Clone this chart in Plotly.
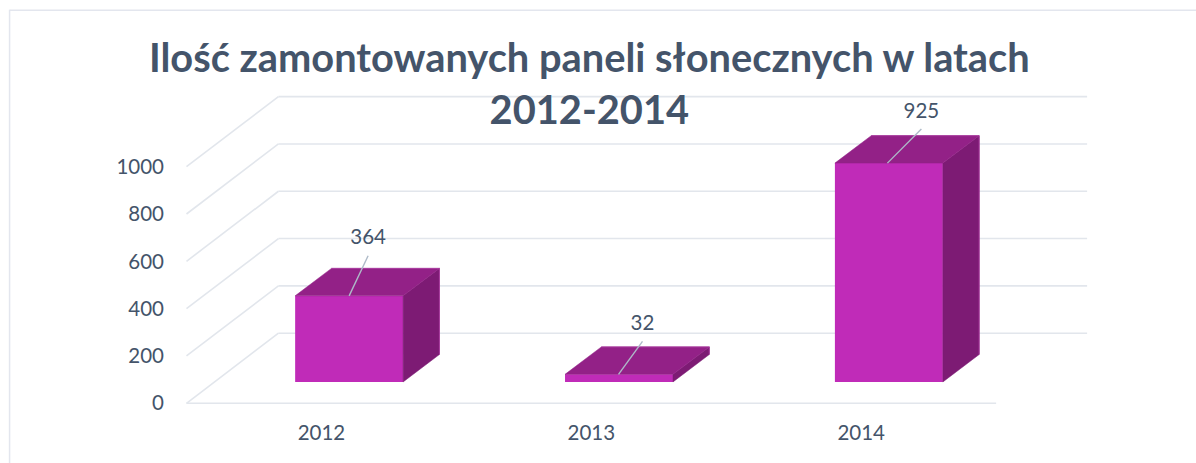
import plotly.graph_objects as go

# ---- data ----
YEARS = ["2012", "2013", "2014"]
PANELS = [364, 32, 925]
Y_TICKS = [0, 200, 400, 600, 800, 1000]
TITLE = "Ilość zamontowanych paneli słonecznych w latach<br>2012-2014"

# ---- 3D-look projection (in axis units) ----
W, H = 1196, 463
PX_X = 270.0            # pixels per category
PX_Y = 0.2363           # pixels per value unit
WALL_DX = 92 / PX_X     # floor depth projected on x
WALL_DY = 70 / PX_Y     # floor depth projected on y
BAR_SHIFT = 27.7 / PX_X
BAR_BASE = 21.3 / PX_Y
BAR_W = 108 / PX_X
BAR_DX = 36.3 / PX_X
BAR_DY = 27.4 / PX_Y
X0 = -0.5
X_RANGE = [-0.55, 2.87]
Y_RANGE = [-20, 1320]

ZERO_PX_X, ZERO_PX_Y = 186, 403
left = ZERO_PX_X + (X_RANGE[0] - X0) * PX_X
right = ZERO_PX_X + (X_RANGE[1] - X0) * PX_X
bottom = ZERO_PX_Y - Y_RANGE[0] * PX_Y
top = ZERO_PX_Y - Y_RANGE[1] * PX_Y

# label anchor offsets, pixels from the centre-ish top point of each bar
LEADER_START = [0, -0.5, -1.5]
LEADER_DX = [19, 24, 34]
LEADER_DY = [40, 33, 34]
LABEL_GAP = 16.5

INK = "#44546A"
GRID = "#E2E6EC"
FRONT, TOP, SIDE, EDGE = "#C02BB8", "#932187", "#7D1B74", "#A83A9E"
LEADER = "#AEBAC8"
FONT = "Lato"

fig = go.Figure()

shapes = []
def grid_line(xs, ys):
    for i in range(len(xs) - 1):
        shapes.append(dict(type="line", xref="x", yref="y", layer="below",
                           x0=xs[i], y0=ys[i], x1=xs[i + 1], y1=ys[i + 1],
                           line=dict(color=GRID, width=1.6)))

back_right = X0 + 901 / PX_X
for t in Y_TICKS:
    grid_line([X0, X0 + WALL_DX, back_right], [t, t + WALL_DY, t + WALL_DY])
grid_line([X0, X0 + 3], [0, 0])

# chart frame (top and left rules only)
def fx(px): return (px - left) / (right - left)
def fy(py): return (bottom - py) / (bottom - top)
frame = dict(color="#E3E6EE", width=1.5)
shapes.append(dict(type="line", xref="paper", yref="paper", layer="below",
                   x0=fx(9), y0=fy(10.5), x1=fx(1196), y1=fy(10.5), line=frame))
shapes.append(dict(type="line", xref="paper", yref="paper", layer="below",
                   x0=fx(9), y0=fy(10), x1=fx(9), y1=fy(463), line=frame))

# front faces
fig.add_trace(go.Bar(
    x=[i + BAR_SHIFT for i in range(len(YEARS))], y=PANELS,
    base=[BAR_BASE] * len(YEARS), width=BAR_W,
    marker=dict(color=FRONT, line=dict(width=0)),
    customdata=YEARS, hovertemplate="%{customdata}: %{y}<extra></extra>",
    showlegend=False,
))

def poly(xs, ys, color):
    fig.add_trace(go.Scatter(x=xs, y=ys, mode="lines", fill="toself", fillcolor=color,
                             line=dict(color=color, width=0.5),
                             hoverinfo="skip", showlegend=False))

for i, v in enumerate(PANELS):
    l = i + BAR_SHIFT - BAR_W / 2
    r = i + BAR_SHIFT + BAR_W / 2
    b = BAR_BASE
    t = BAR_BASE + v
    # side face
    poly([r, r + BAR_DX, r + BAR_DX, r, r], [b, b + BAR_DY, t + BAR_DY, t, b], SIDE)
    # top face
    poly([l, l + BAR_DX, r + BAR_DX, r, l], [t, t + BAR_DY, t + BAR_DY, t, t], TOP)
    # lighter rear edges
    fig.add_trace(go.Scatter(
        x=[l + BAR_DX, r + BAR_DX, r + BAR_DX],
        y=[t + BAR_DY, t + BAR_DY, b + BAR_DY],
        mode="lines", line=dict(color=EDGE, width=1),
        hoverinfo="skip", showlegend=False))
    # leader line and value label
    sx = i + BAR_SHIFT + LEADER_START[i] / PX_X
    ex = sx + LEADER_DX[i] / PX_X
    ey = t + LEADER_DY[i] / PX_Y
    fig.add_trace(go.Scatter(x=[sx, ex], y=[t, ey], mode="lines",
                             line=dict(color=LEADER, width=1.4),
                             hoverinfo="skip", showlegend=False))
    fig.add_trace(go.Scatter(x=[ex], y=[ey + LABEL_GAP / PX_Y], mode="text",
                             text=[str(v)], textposition="middle center",
                             textfont=dict(family=FONT, size=20.5, color=INK),
                             hoverinfo="skip", showlegend=False))

fig.update_layout(
    width=W, height=H,
    margin=dict(l=left, r=W - right, t=top, b=H - bottom, autoexpand=False, pad=0),
    paper_bgcolor="white", plot_bgcolor="white",
    showlegend=False, shapes=shapes,
    title=dict(text=TITLE, x=fx(589), xanchor="center", xref="paper",
               y=1 - 72 / H, yanchor="top", yref="container",
               font=dict(family=FONT, size=39.8, color=INK, weight="bold")),
    xaxis=dict(range=X_RANGE, tickmode="array", tickvals=list(range(len(YEARS))), ticktext=YEARS,
               showgrid=False, zeroline=False, showline=False, ticks="", ticklabelstandoff=10,
               tickfont=dict(family=FONT, size=20.5, color=INK)),
    yaxis=dict(range=Y_RANGE, tickmode="array", tickvals=Y_TICKS, showgrid=False, zeroline=False,
               showline=False, ticks="", ticklabelstandoff=8,
               tickfont=dict(family=FONT, size=20.5, color=INK)),
)
fig.write_html("out.html", config=dict(displayModeBar=False),
               post_script="document.body.style.margin='0';document.documentElement.style.overflow='hidden';")
